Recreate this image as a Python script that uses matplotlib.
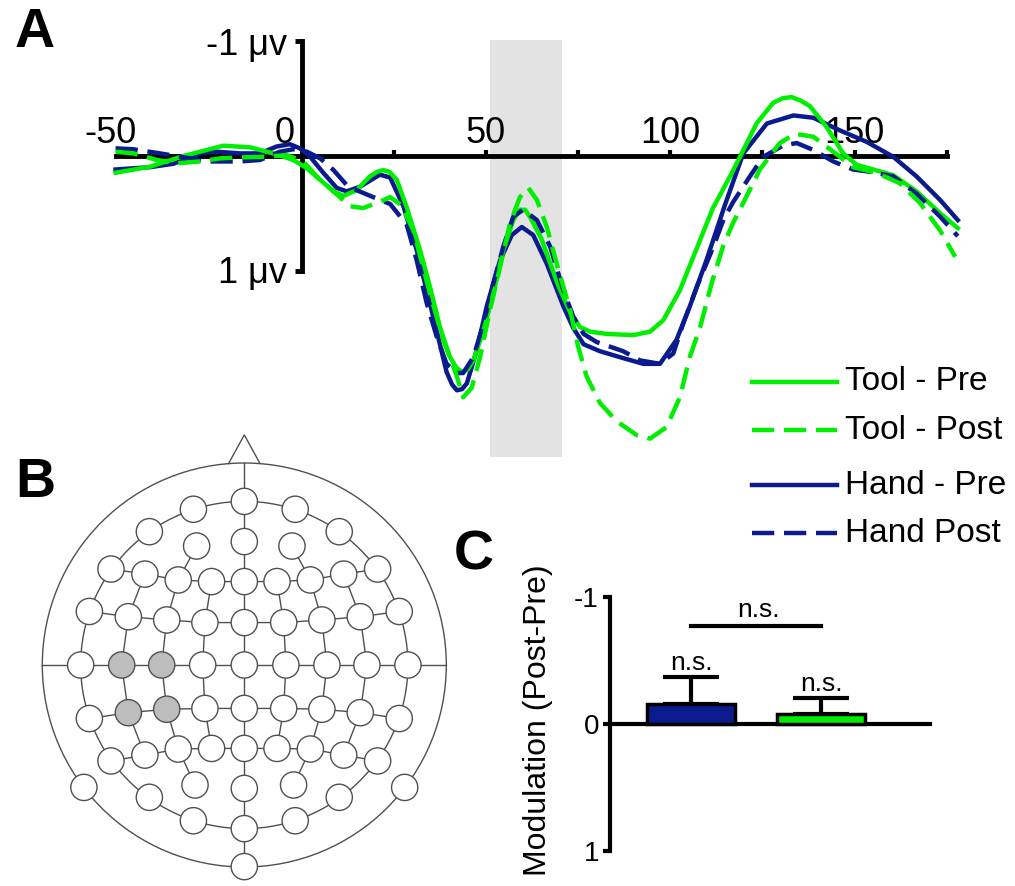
import matplotlib
matplotlib.use('Agg')
import matplotlib.pyplot as plt
from matplotlib.patches import Rectangle, Circle

plt.rcParams['font.family'] = ['Liberation Sans', 'DejaVu Sans']
plt.rcParams['axes.unicode_minus'] = False

# ---------------- Panel A data (time in ms, amplitude in microvolts) ----------------
tool_pre_t = [-50.5, -41.2, -32.1, -21.3, -14.0, -7.7, -2.3, 1.4, 5.0, 8.6, 11.3, 14.9, 18.5, 20.5, 22.1,
              23.8, 25.8, 28.5, 32.1, 34.8, 37.5, 40.2, 41.9, 43.4, 45.0, 46.6, 49.3, 52.0, 54.7, 57.4,
              59.2, 60.6, 61.9, 65.0, 69.5, 72.8, 75.5, 78.2, 82.7, 90.0, 94.5, 98.1, 102.6, 107.5,
              111.5, 116.2, 118.9, 123.4, 127.9, 130.5, 132.9, 135.3, 137.9, 142.4, 146.9, 150.6,
              155.1, 160.5, 166.8, 173.2, 178.0]
tool_pre_v = [0.148, 0.096, 0.003, -0.087, -0.073, -0.02, 0.037, 0.11, 0.21, 0.31, 0.35, 0.30, 0.18, 0.14, 0.125,
              0.14, 0.21, 0.45, 0.82, 1.14, 1.49, 1.75, 1.84, 1.88, 1.86, 1.78, 1.52, 1.20, 0.82, 0.56,
              0.47, 0.47, 0.53, 0.72, 1.12, 1.36, 1.49, 1.53, 1.55, 1.56, 1.53, 1.43, 1.17, 0.78,
              0.46, 0.18, 0.01, -0.28, -0.46, -0.50, -0.51, -0.48, -0.43, -0.25, -0.02, 0.08,
              0.12, 0.17, 0.31, 0.50, 0.63]

tool_post_t = [-50.5, -45.7, -39.3, -33.9, -27.6, -22.2, -15.8, -9.5, -4.1, 0.4, 4.1, 8.6, 13.1, 16.7,
               21.2, 24.0, 27.0, 30.3, 34.8, 38.4, 42.1, 43.8, 46.1, 48.4, 51.1, 53.8, 56.5, 59.2,
               61.5, 63.8, 66.5, 69.2, 72.8, 75.0, 77.3, 80.9, 85.5, 90.9, 94.5, 99.0, 102.6, 105.3,
               108.1, 111.3, 114.4, 117.1, 119.8, 124.3, 129.7, 133.8, 138.8, 144.2, 149.6, 156.0,
               162.3, 167.7, 173.2, 177.3]
tool_post_v = [-0.035, -0.02, 0.037, 0.066, 0.05, 0.023, 0.014, 0.009, -0.006, 0.05, 0.18, 0.31, 0.44, 0.455,
               0.40, 0.36, 0.43, 0.65, 1.20, 1.60, 1.92, 2.10, 2.02, 1.75, 1.34, 0.97, 0.59, 0.36,
               0.28, 0.385, 0.62, 0.94, 1.34, 1.66, 1.92, 2.15, 2.31, 2.43, 2.46, 2.36, 2.10, 1.75,
               1.49, 1.10, 0.78, 0.58, 0.41, 0.12, -0.11, -0.19, -0.165, -0.035, 0.10, 0.15,
               0.24, 0.41, 0.65, 0.88]

hand_pre_t = [-50.5, -41.2, -34.8, -27.6, -23.1, -16.7, -11.3, -6.8, -3.2, -0.5, 2.3, 5.9, 9.5, 12.2,
              15.8, 21.2, 24.0, 27.6, 31.2, 33.9, 36.6, 39.3, 40.8, 42.1, 43.5, 44.8, 47.5, 50.2, 53.8,
              57.0, 59.7, 62.8, 66.5, 71.0, 73.7, 76.5, 80.9, 87.2, 92.7, 97.2, 101.7, 105.3, 109.9,
              114.8, 119.8, 126.2, 133.4, 138.8, 146.0, 153.3, 160.5, 166.8, 173.2, 178.0]
hand_pre_v = [0.12, 0.10, 0.07, -0.02, -0.035, -0.02, -0.02, -0.08, -0.10, -0.064, 0.01, 0.15, 0.28, 0.31,
              0.27, 0.165, 0.19, 0.44, 0.82, 1.17, 1.52, 1.88, 1.99, 2.04, 2.03, 1.98, 1.69, 1.31, 0.91,
              0.69, 0.62, 0.69, 0.94, 1.31, 1.50, 1.64, 1.70, 1.76, 1.81, 1.81, 1.60, 1.31, 0.90,
              0.43, -0.02, -0.28, -0.35, -0.33, -0.22, -0.12, 0.01, 0.18, 0.385, 0.56]

hand_post_t = [-50.5, -45.7, -38.4, -32.1, -24.9, -16.7, -11.3, -5.9, -2.3, 1.4, 5.0, 8.6, 12.2, 14.9,
               19.4, 24.0, 28.5, 31.2, 33.9, 36.6, 39.3, 42.1, 43.8, 46.6, 49.3, 52.0, 54.7, 57.4,
               60.1, 63.8, 67.4, 71.0, 73.7, 76.5, 80.0, 87.2, 91.8, 97.2, 100.8, 103.5, 107.2,
               111.7, 114.5, 117.1, 121.6, 125.2, 130.7, 134.3, 138.8, 144.2, 149.6, 154.2, 160.5,
               166.8, 173.2, 178.0]
hand_post_v = [-0.064, -0.056, -0.02, 0.014, 0.05, 0.05, 0.037, -0.035, -0.056, -0.035, 0.023, 0.124, 0.255, 0.30,
               0.36, 0.42, 0.60, 0.91, 1.28, 1.57, 1.81, 1.89, 1.89, 1.75, 1.46, 1.11, 0.79, 0.53,
               0.47, 0.56, 0.79, 1.17, 1.40, 1.55, 1.62, 1.70, 1.78, 1.81, 1.72, 1.46, 1.14,
               0.79, 0.55, 0.40, 0.18, 0.01, -0.09, -0.11, -0.05, 0.05, 0.12, 0.14, 0.18,
               0.33, 0.53, 0.70]

window_ms = [51.1, 70.5]
x_ticks = [25, 50, 75, 100, 125, 150, 175]
x_tick_labels = ['-50', '0', '50', '100', '150']
x_tick_label_pos = [-44.7, -1.8, 50, 100, 150]
x_tick_label_ha = ['right', 'right', 'center', 'center', 'center']
legend_labels = ['Tool - Pre', 'Tool - Post', 'Hand - Pre', 'Hand Post']

# ---------------- Panel B data (electrode map, head radius = 1) ----------------
elec_x = [-0.252, 0.0, 0.252,
          -0.47, 0.47,
          -0.236, 0.0, 0.236,
          -0.66, -0.492, -0.327, -0.162, 0.0, 0.162, 0.327, 0.492, 0.66,
          -0.767, -0.574, -0.384, -0.195, 0.0, 0.195, 0.384, 0.574, 0.767,
          -0.81, -0.607, -0.409, -0.206, 0.0, 0.206, 0.409, 0.607, 0.81,
          -0.767, -0.574, -0.384, -0.195, 0.0, 0.195, 0.384, 0.574, 0.767,
          -0.66, -0.492, -0.327, -0.162, 0.0, 0.162, 0.327, 0.492, 0.66,
          -0.794, -0.47, -0.244, 0.0, 0.244, 0.47, 0.794,
          -0.252, 0.0, 0.252,
          0.0]
elec_y = [0.771, 0.81, 0.771,
          0.66, 0.66,
          0.589, 0.611, 0.589,
          0.475, 0.45, 0.421, 0.413, 0.413, 0.413, 0.421, 0.45, 0.475,
          0.265, 0.239, 0.223, 0.21, 0.21, 0.21, 0.223, 0.239, 0.265,
          0.0, 0.0, 0.0, 0.0, 0.0, 0.0, 0.0, 0.0, 0.0,
          -0.265, -0.236, -0.219, -0.215, -0.215, -0.215, -0.219, -0.236, -0.265,
          -0.475, -0.446, -0.416, -0.413, -0.413, -0.413, -0.416, -0.446, -0.475,
          -0.606, -0.655, -0.594, -0.611, -0.594, -0.655, -0.606,
          -0.771, -0.81, -0.771,
          -0.998]
selected = [27, 28, 36, 37]
# rows / columns of the grid (electrode indices joined by lines)
grid_paths = [
    list(range(8, 17)), list(range(17, 26)), list(range(35, 44)), list(range(44, 53)),
    [9, 18, 27, 36, 45], [15, 24, 33, 42, 51],
    [5, 10, 19, 28, 37, 46, 55], [7, 14, 23, 32, 41, 50, 57],
    [11, 20, 29, 38, 47], [13, 22, 31, 40, 49],
]
ring_radius = 0.81
electrode_radius = 0.065

# ---------------- Panel C data ----------------
bar_names = ['Hand', 'Tool']
bar_means = [-0.155, -0.077]
bar_sem = [0.218, 0.126]

GREEN = '#00ee00'
BLUE = '#0b1a8c'
GREY_LINE = '#505050'

W, H = 1015, 886
fig = plt.figure(figsize=(W / 100, H / 100), dpi=100)


def px_axes(x0, y0, x1, y1):
    return fig.add_axes([x0 / W, 1 - y1 / H, (x1 - x0) / W, (y1 - y0) / H])


# ================= Panel A =================
axA = px_axes(100, 25, 970, 470)
x0A, sxA, y0A, syA = 301.7, 3.686, 155.7, 115.0
axA.set_xlim((100 - x0A) / sxA, (970 - x0A) / sxA)
axA.set_ylim((470 - y0A) / syA, (25 - y0A) / syA)
axA.patch.set_alpha(0)
for s in ['top', 'right']:
    axA.spines[s].set_visible(False)
axA.spines['left'].set_position(('data', 0))
axA.spines['left'].set_bounds(-1, 1)
axA.spines['bottom'].set_position(('data', 0))
axA.spines['bottom'].set_bounds(tool_pre_t[0], 175)
for s in ['left', 'bottom']:
    axA.spines[s].set_linewidth(3.5)
axA.set_xticks(x_ticks)
axA.set_yticks([-1, 1])
axA.tick_params(axis='x', direction='in', length=4, width=3, labelbottom=False)
axA.tick_params(axis='y', direction='out', length=5, width=3.5, labelleft=False)

axA.add_patch(Rectangle((window_ms[0], -1.006), window_ms[1] - window_ms[0], 3.623,
                        facecolor='#e3e3e3', edgecolor='none', zorder=0))

styles = {
    'Tool - Pre': dict(color=GREEN, lw=3.2, ls='-'),
    'Tool - Post': dict(color=GREEN, lw=3.2, ls=(0, (5, 2.2))),
    'Hand - Pre': dict(color=BLUE, lw=3.2, ls='-'),
    'Hand Post': dict(color=BLUE, lw=3.2, ls=(0, (5, 2.2))),
}
axA.plot(hand_pre_t, hand_pre_v, zorder=3, solid_joinstyle='round', **styles['Hand - Pre'])
axA.plot(tool_pre_t, tool_pre_v, zorder=4, solid_joinstyle='round', **styles['Tool - Pre'])
axA.plot(hand_post_t, hand_post_v, zorder=5, **styles['Hand Post'])
axA.plot(tool_post_t, tool_post_v, zorder=6, **styles['Tool - Post'])

for lab, pos, ha in zip(x_tick_labels, x_tick_label_pos, x_tick_label_ha):
    axA.text(pos, -0.108, lab, ha=ha, va='baseline', fontsize=26, zorder=2)
axA.text(-4.0, -0.876, '-1 \u03bcv', ha='right', va='baseline', fontsize=26)
axA.text(-4.0, 1.11, '1 \u03bcv', ha='right', va='baseline', fontsize=26)

# ================= Panel B =================
axB = px_axes(30, 425, 460, 880)
cxB, cyB, rB = 244.3, 665.0, 202.0
axB.set_xlim((30 - cxB) / rB, (460 - cxB) / rB)
axB.set_ylim((cyB - 880) / rB, (cyB - 425) / rB)
axB.axis('off')
lw_b = 1.0
axB.add_patch(Circle((0, 0), 1.0, fill=False, ec=GREY_LINE, lw=lw_b, zorder=1))
axB.add_patch(Circle((0, 0), ring_radius, fill=False, ec=GREY_LINE, lw=lw_b, zorder=1))
axB.plot([-0.078, 0, 0.078], [0.997, 1.139, 0.997], color=GREY_LINE, lw=lw_b, zorder=1)
axB.plot([0, 0], [1.0, elec_y[-1]], color=GREY_LINE, lw=lw_b, zorder=1)
axB.plot([-1.0, 1.0], [0, 0], color=GREY_LINE, lw=lw_b, zorder=1)
for path in grid_paths:
    axB.plot([elec_x[i] for i in path], [elec_y[i] for i in path], color=GREY_LINE, lw=lw_b, zorder=1)
for i, (ex, ey) in enumerate(zip(elec_x, elec_y)):
    fc = '#bdbdbd' if i in selected else 'white'
    axB.add_patch(Circle((ex, ey), electrode_radius, facecolor=fc, edgecolor=GREY_LINE,
                         lw=lw_b, zorder=3, clip_on=False))

# ================= Panel C =================
axC = px_axes(600, 560, 960, 880)
x0C, sxC, y0C, syC = 691.0, 130.3, 724.0, 126.7
axC.set_xlim((600 - x0C) / sxC, (960 - x0C) / sxC)
axC.set_ylim((880 - y0C) / syC, (560 - y0C) / syC)
axC.patch.set_alpha(0)
for s in ['top', 'right']:
    axC.spines[s].set_visible(False)
yaxis_x = (610 - x0C) / sxC
axC.spines['left'].set_position(('data', yaxis_x))
axC.spines['left'].set_bounds(-1, 1)
axC.spines['bottom'].set_position(('data', 0))
axC.spines['bottom'].set_bounds(yaxis_x, (930 - x0C) / sxC)
for s in ['left', 'bottom']:
    axC.spines[s].set_linewidth(3)
axC.set_xticks([])
axC.set_yticks([-1, 0, 1])
axC.set_yticklabels(['-1', '0', '1'])
axC.tick_params(axis='y', direction='out', length=5, width=3, labelsize=20, pad=3)

xs = list(range(len(bar_names)))
axC.errorbar(xs, bar_means, yerr=[bar_sem, [0] * len(bar_sem)], fmt='none', ecolor='black',
             elinewidth=3, capsize=20, capthick=3, zorder=2)
axC.bar(xs, bar_means, width=0.678, color=[BLUE, GREEN], edgecolor='black', linewidth=2.5, zorder=3)
for x, m, e in zip(xs, bar_means, bar_sem):
    axC.text(x, m - e - 0.055, 'n.s.', ha='center', va='baseline', fontsize=19)
axC.plot([0, 1], [-0.776, -0.776], color='black', lw=3)
axC.text(0.52, -0.847, 'n.s.', ha='center', va='baseline', fontsize=19)

# ================= Overlay: panel letters, legend, C label =================
axO = fig.add_axes([0, 0, 1, 1])
axO.set_xlim(0, W)
axO.set_ylim(H, 0)
axO.axis('off')
axO.patch.set_alpha(0)
for letter, (lx, ly) in zip(['A', 'B', 'C'], [(35, 32.5), (35.8, 483.3), (473.5, 555)]):
    axO.text(lx, ly, letter, ha='center', va='center', fontsize=40, fontweight='bold')
axO.text(538.4, 720, 'Modulation (Post-Pre)', rotation=90, ha='center', va='center', fontsize=23)
for lab, ly in zip(legend_labels, [381.7, 430, 485, 533]):
    axO.plot([752, 837], [ly, ly], **styles[lab])
    axO.text(845, ly, lab, ha='left', va='center', fontsize=24)

fig.savefig('out.png', dpi=100)
